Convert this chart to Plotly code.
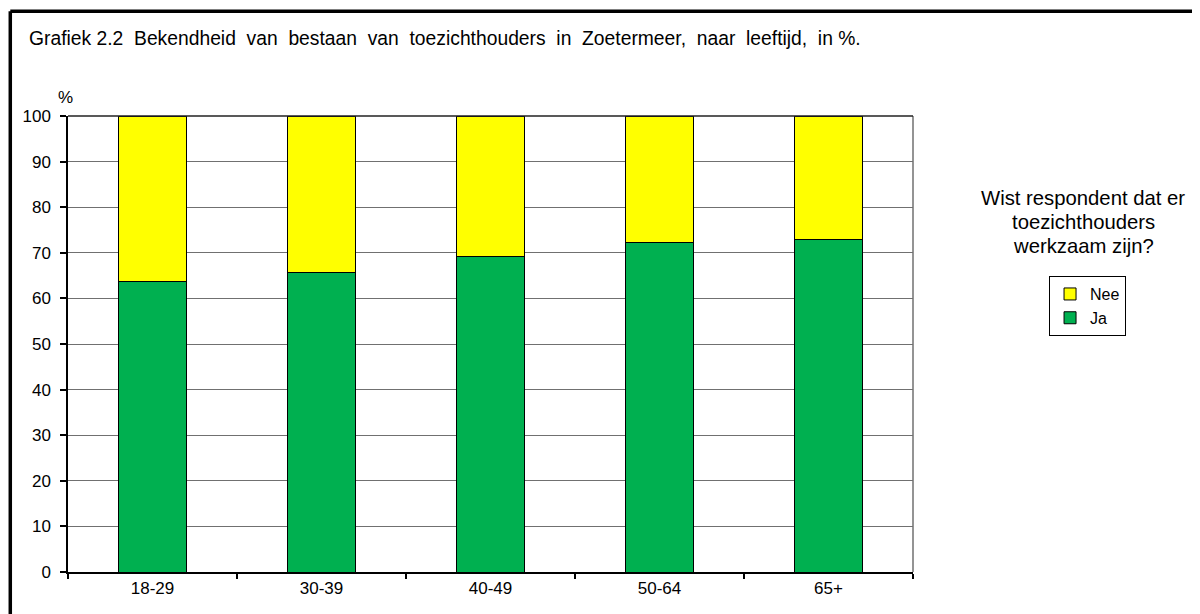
import plotly.graph_objects as go

categories = ["18-29", "30-39", "40-49", "50-64", "65+"]
ja = [63.8, 65.6, 69.2, 72.2, 73.0]
nee = [36.2, 34.4, 30.8, 27.8, 27.0]
y_ticks = [0, 10, 20, 30, 40, 50, 60, 70, 80, 90, 100]
legend_title_lines = ["Wist respondent dat er", "toezichthouders", "werkzaam zijn?"]

fig = go.Figure()
fig.add_trace(go.Bar(x=categories, y=ja, name="Ja",
                     marker=dict(color="#00B050", line=dict(color="black", width=1))))
fig.add_trace(go.Bar(x=categories, y=nee, name="Nee",
                     marker=dict(color="#FFFF00", line=dict(color="black", width=1))))

font = "Arial, Liberation Sans, sans-serif"

annotations = [
    dict(text="Grafiek 2.2  Bekendheid  van  bestaan  van  toezichthouders  in  Zoetermeer,  naar  leeftijd,  in %.",
         xref="paper", yref="paper", x=-0.0485, y=1.171, xanchor="left", yanchor="middle",
         showarrow=False, font=dict(size=19.3, family=font)),
    dict(text="%", xref="paper", yref="paper", x=-0.0024, y=1.0395, xanchor="center", yanchor="middle",
         showarrow=False, font=dict(size=17, family=font)),
]
for line_text, ypos in zip(legend_title_lines, [0.8202, 0.7675, 0.7149]):
    annotations.append(dict(text=line_text, xref="paper", yref="paper", x=1.2012, y=ypos,
                            xanchor="center", yanchor="middle", showarrow=False,
                            font=dict(size=20.3, family=font)))

fig.update_layout(
    barmode="stack",
    bargap=0.598,
    width=1200, height=614,
    margin=dict(l=60, r=295, t=108, b=50),
    paper_bgcolor="white", plot_bgcolor="white",
    font=dict(family=font, size=17, color="black"),
    showlegend=True,
    legend=dict(x=1.161, y=0.649, xanchor="left", yanchor="top",
                bordercolor="black", borderwidth=1, bgcolor="white",
                font=dict(size=16, family=font), traceorder="reversed",
                itemwidth=30, tracegroupgap=0),
    xaxis=dict(showline=True, linecolor="black", linewidth=1.5, ticks="outside",
               tickson="boundaries", ticklen=5, tickcolor="black", tickwidth=1.5,
               showgrid=False, tickfont=dict(size=17)),
    yaxis=dict(range=[0, 100], tickvals=y_ticks, showline=True, linecolor="black",
               linewidth=1.5, ticks="outside", ticklen=6, tickcolor="black", tickwidth=1.5,
               ticklabelstandoff=6, tickfont=dict(size=17),
               showgrid=True, gridcolor="#707070", gridwidth=1.2, zeroline=False),
    shapes=[
        dict(type="line", xref="paper", yref="paper", x0=1, x1=1, y0=0, y1=1,
             line=dict(color="#707070", width=1.5)),
        dict(type="line", xref="paper", yref="paper", x0=0, x1=1, y0=1, y1=1,
             line=dict(color="#222222", width=1.5)),
        dict(type="line", xref="paper", yref="paper", x0=-0.0683, x1=1.5, y0=1.2296, y1=1.2296,
             line=dict(color="black", width=3.5)),
        dict(type="line", xref="paper", yref="paper", x0=-0.0683, x1=-0.0683, y0=1.2296, y1=-0.2,
             line=dict(color="black", width=3.5)),
    ],
    annotations=annotations,
)

fig.write_html("out.html")
